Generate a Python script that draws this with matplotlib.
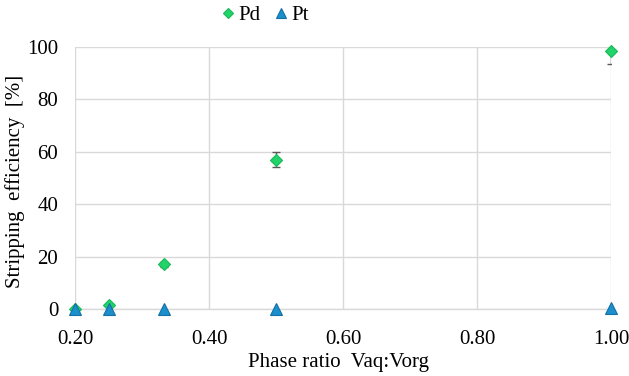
import matplotlib
matplotlib.use("Agg")
import matplotlib.pyplot as plt
import numpy as np

plt.rcParams['font.family'] = ['Liberation Serif', 'DejaVu Serif']

phase_ratio = [0.20, 0.25, 1/3, 0.50, 1.00]
pd_values = [0.0, 1.5, 17.0, 57.0, 98.5]
pd_err = [0.3, 0.5, 0.8, 2.8, 5.0]
pt_values = [0.0, 0.0, 0.0, 0.0, 0.5]
pt_err = [0.0, 0.0, 0.0, 0.0, 0.2]

fig = plt.figure(figsize=(6.29, 3.76), dpi=100)
ax = fig.add_axes([75/629, 1-309/376, (611-75)/629, (309-47)/376])

ax.set_xlim(0.2, 1.0)
ax.set_ylim(0, 100)
ax.set_xticks([0.2, 0.4, 0.6, 0.8, 1.0])
ax.set_xticklabels(['0.20', '0.40', '0.60', '0.80', '1.00'])
ax.set_yticks([0, 20, 40, 60, 80, 100])
ax.grid(True, color='#d9d9d9', linewidth=1.0)
ax.set_axisbelow(True)
for s in ['top', 'right', 'left']:
    ax.spines[s].set_visible(False)
ax.spines['bottom'].set_color('#d9d9d9')
ax.spines['bottom'].set_linewidth(1.0)
ax.tick_params(axis='x', length=0, labelsize=15, colors='black', pad=15)
ax.tick_params(axis='y', length=0, labelsize=15, colors='black', pad=12)

eb = ax.errorbar(phase_ratio, pd_values, yerr=pd_err, fmt='none', ecolor='#595959',
                 elinewidth=1.0, capsize=3, capthick=1.0, zorder=3)
for artist in eb.lines[1] + eb.lines[2]:
    artist.set_clip_on(True)
ax.plot(phase_ratio, pd_values, linestyle='none', marker='D', markersize=6.5,
        markerfacecolor='#22d36a', markeredgecolor='#18b858', markeredgewidth=0.8,
        clip_on=False, zorder=4, label='Pd')
ax.plot(phase_ratio, pt_values, linestyle='none', marker='^', markersize=9,
        markerfacecolor='#1b8fcb', markeredgecolor='#1570a8', markeredgewidth=0.8,
        clip_on=False, zorder=5, label='Pt')

ax.set_xlabel('Phase ratio  Vaq:Vorg', fontsize=15)
ax.xaxis.label.set_va('center')
ax.xaxis.set_label_coords((339 - 75) / 536, (309 - 363) / 262)
ax.set_ylabel('Stripping  efficiency  [%]', fontsize=15)
ax.yaxis.label.set_va('center')
ax.yaxis.set_label_coords((15 - 75) / 536, (309 - 181) / 262)

leg = fig.legend(loc='upper center', bbox_to_anchor=(263 / 629, 1.008), ncol=2, frameon=False,
                 fontsize=15, handletextpad=0.0, columnspacing=0.5, handlelength=1.0,
                 markerscale=0.85, borderaxespad=0.0)

fig.savefig('out.png', dpi=100)
